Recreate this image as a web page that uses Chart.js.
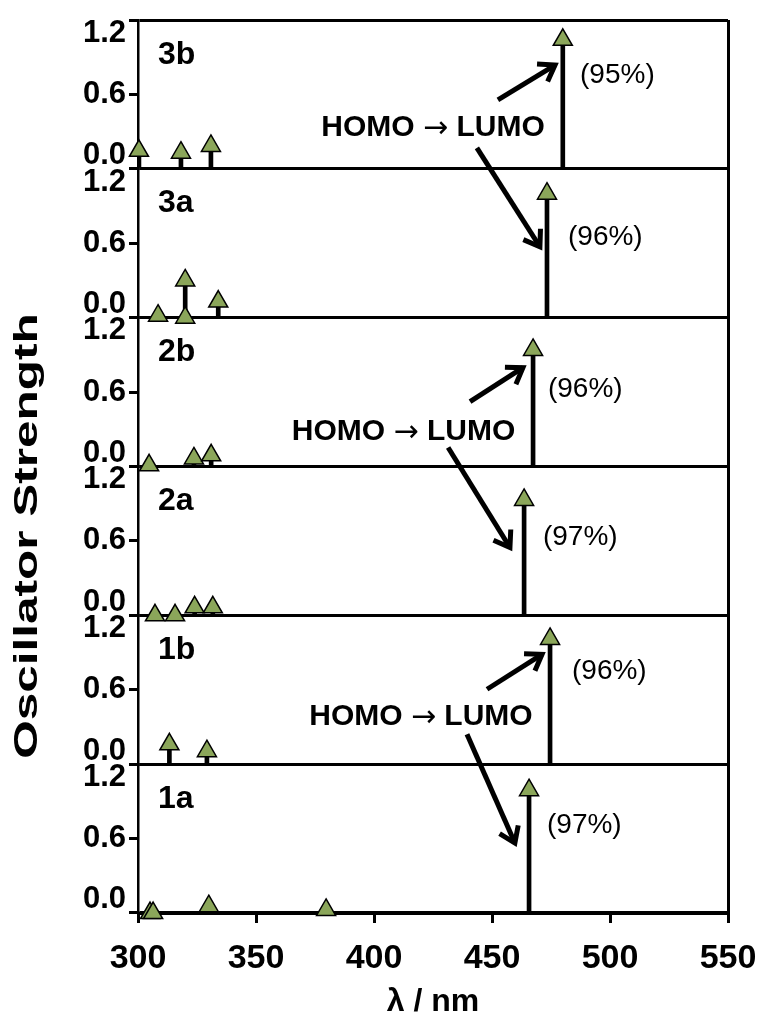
<!DOCTYPE html>
<html>
<head>
<meta charset="utf-8">
<title>Oscillator strength</title>
<script src="https://cdn.jsdelivr.net/npm/chart.js@4.4.1/dist/chart.umd.min.js"></script>
<style>
  html, body { margin: 0; padding: 0; background: #fff; }
</style>
</head>
<body>
<canvas id="spectra" width="764" height="1027"></canvas>
<script>
// panels, listed bottom to top
var panels = ['1a', '1b', '2a', '2b', '3a', '3b'];
var xTicks = [300, 350, 400, 450, 500, 550];
var yTicks = [0.0, 0.6, 1.2];

// excitation wavelength (nm) and oscillator strength for each compound
var wl1a = [305.1, 306.4, 330.0, 379.7, 465.7];
var f1a  = [0.00, 0.00, 0.055, 0.025, 0.99];
var wl1b = [313.3, 329.2, 474.6];
var f1b  = [0.16, 0.105, 1.01];
var wl2a = [307.2, 315.7, 324.0, 331.7, 463.6];
var f2a  = [0.00, 0.00, 0.065, 0.065, 0.93];
var wl2b = [304.7, 323.7, 331.0, 467.4];
var f2b  = [0.01, 0.065, 0.09, 0.94];
var wl3a = [308.5, 320.0, 320.0, 334.0, 473.3];
var f3a  = [0.016, 0.30, 0.00, 0.13, 1.00];
var wl3b = [300.4, 318.2, 330.9, 480.0];
var f3b  = [0.145, 0.13, 0.185, 1.04];

// HOMO -> LUMO contribution of the main band
var percentText = ['(97%)', '(96%)', '(97%)', '(96%)', '(96%)', '(95%)'];

var series = {
  '1a': [wl1a, f1a], '1b': [wl1b, f1b], '2a': [wl2a, f2a],
  '2b': [wl2b, f2b], '3a': [wl3a, f3a], '3b': [wl3b, f3b]
};

var FONT = '"Liberation Sans", Arial, Helvetica, sans-serif';
var green = '#8ba65a';

var datasets = [];
panels.forEach(function (p) {
  var pts = series[p][0].map(function (x, k) { return { x: x, y: series[p][1][k] }; });
  // the sticks
  datasets.push({
    type: 'bar', data: pts, yAxisID: 'y' + p,
    backgroundColor: '#000', barThickness: 4, grouped: false, order: 2
  });
  // triangle markers on top of the sticks
  datasets.push({
    type: 'scatter', data: pts, yAxisID: 'y' + p,
    pointStyle: 'triangle', pointRadius: 11, pointHoverRadius: 11,
    backgroundColor: green, borderColor: '#000', borderWidth: 1.5,
    clip: false, order: 1
  });
});

var scales = {
  x: {
    type: 'linear', min: 300, max: 550, offset: false,
    afterBuildTicks: function (s) { s.ticks = xTicks.map(function (v) { return { value: v }; }); },
    ticks: { color: '#000', padding: 15, maxRotation: 0, autoSkip: false,
             font: { family: FONT, size: 34, weight: 'bold', lineHeight: 1.2 } },
    grid: {
      offset: false,
      color: function (c) { return c.tick && c.tick.value === 550 ? '#000' : 'rgba(0,0,0,0)'; },
      lineWidth: 3, tickColor: '#000', tickWidth: 3, tickLength: 10
    },
    border: { color: '#000', width: 3 },
    title: { display: true, text: 'λ / nm', color: '#000', padding: { top: 0, bottom: 6 },
             font: { family: FONT, size: 32, weight: 'bold', lineHeight: 1.2 } },
    afterFit: function (s) { s.height = 114; s.paddingLeft = 0; s.paddingRight = 0; }
  }
};

panels.forEach(function (p) {
  scales['y' + p] = {
    type: 'linear', position: 'left', stack: 'panels', stackWeight: 1, min: 0, max: 1.2,
    afterBuildTicks: function (s) { s.ticks = yTicks.map(function (v) { return { value: v }; }); },
    ticks: {
      color: '#000', padding: 3, autoSkip: false,
      font: { family: FONT, size: 31, weight: 'bold', lineHeight: 0.85 },
      // push 0.0 up and 1.2 down so neighbouring panels don't collide
      callback: function (v) {
        if (v === 0) return ['0.0', ''];
        if (v > 1.1) return ['', '1.2'];
        return v.toFixed(1);
      }
    },
    grid: {
      color: function (c) { return c.tick && c.tick.value > 0.1 && c.tick.value < 1.1 ? 'rgba(0,0,0,0)' : '#000'; },
      lineWidth: 3, tickColor: '#000', tickWidth: 3, tickLength: 9
    },
    border: { color: '#000', width: 2.5 },
    afterFit: function (s) { s.width = 138; s.paddingTop = 0; s.paddingBottom = 0; }
  };
});

// annotation positions, in data units of the given panel
var panelLabelX = 308.5, panelLabelY = 0.92;
var homoLumo = [['3b', 425.0, 0.33], ['2b', 412.5, 0.28], ['1b', 419.9, 0.38]];
var arrows = [
  ['3b', 452.5, 0.556, '3b', 476.7, 0.837],
  ['3b', 443.6, 0.169, '3a', 470.3, 0.572],
  ['2b', 440.7, 0.523, '2b', 463.1, 0.797],
  ['2b', 431.4, 0.153, '2a', 457.6, 0.547],
  ['1b', 447.9, 0.604, '1b', 471.2, 0.886],
  ['1b', 439.4, 0.242, '1a', 459.7, 0.564]
];
var percentPos = [[473.3, 0.709], [483.9, 0.749], [471.6, 0.628], [473.7, 0.62], [482.2, 0.652], [487.3, 0.757]];

var annotate = {
  id: 'annotate',
  afterDatasetsDraw: function (chart) {
    var ctx = chart.ctx, xs = chart.scales.x;
    function px(v) { return xs.getPixelForValue(v); }
    function py(p, v) { return chart.scales['y' + p].getPixelForValue(v); }
    ctx.save();
    ctx.fillStyle = '#000';
    ctx.strokeStyle = '#000';

    // panel names
    ctx.font = 'bold 32px ' + FONT;
    ctx.textAlign = 'left';
    ctx.textBaseline = 'middle';
    panels.forEach(function (p) { ctx.fillText(p, px(panelLabelX), py(p, panelLabelY)); });

    // percentages
    ctx.font = '28px ' + FONT;
    panels.forEach(function (p, i) {
      ctx.fillText(percentText[i], px(percentPos[i][0]), py(p, percentPos[i][1]));
    });

    // HOMO -> LUMO labels: bold words, thin arrow in between
    var boldF = 'bold 30px ' + FONT, arrowF = '30px "DejaVu Sans", sans-serif';
    homoLumo.forEach(function (h) {
      ctx.font = boldF;
      var w1 = ctx.measureText('HOMO ').width, w3 = ctx.measureText(' LUMO').width;
      ctx.font = arrowF;
      var w2 = ctx.measureText('\u2192').width;
      var x = px(h[1]) - (w1 + w2 + w3) / 2, y = py(h[0], h[2]);
      ctx.textAlign = 'left';
      ctx.font = boldF; ctx.fillText('HOMO ', x, y);
      ctx.font = arrowF; ctx.fillText('\u2192', x + w1, y + 1);
      ctx.font = boldF; ctx.fillText(' LUMO', x + w1 + w2, y);
    });

    // arrows
    ctx.lineWidth = 5;
    ctx.lineCap = 'butt';
    arrows.forEach(function (a) {
      var x1 = px(a[1]), y1 = py(a[0], a[2]), x2 = px(a[4]), y2 = py(a[3], a[5]);
      var ang = Math.atan2(y2 - y1, x2 - x1), len = 18, spread = 0.6;
      ctx.beginPath();
      ctx.moveTo(x1, y1); ctx.lineTo(x2, y2);
      ctx.stroke();
      ctx.beginPath();
      ctx.moveTo(x2 - len * Math.cos(ang - spread), y2 - len * Math.sin(ang - spread));
      ctx.lineTo(x2, y2);
      ctx.lineTo(x2 - len * Math.cos(ang + spread), y2 - len * Math.sin(ang + spread));
      ctx.stroke();
    });

    // shared y title (the original lettering is set wide)
    ctx.font = 'bold 33px ' + FONT;
    ctx.textAlign = 'center';
    ctx.translate(28, 536);
    ctx.rotate(-Math.PI / 2);
    ctx.scale(1.5, 1);
    ctx.fillText('Oscillator Strength', 0, 0);
    ctx.restore();
  }
};

new Chart(document.getElementById('spectra'), {
  type: 'scatter',
  data: { datasets: datasets },
  options: {
    responsive: false,
    animation: false,
    devicePixelRatio: 1,
    events: [],
    layout: { padding: { top: 20, right: 36, left: 0, bottom: 0 } },
    plugins: { legend: { display: false }, tooltip: { enabled: false } },
    scales: scales
  },
  plugins: [annotate]
});
</script>
</body>
</html>
